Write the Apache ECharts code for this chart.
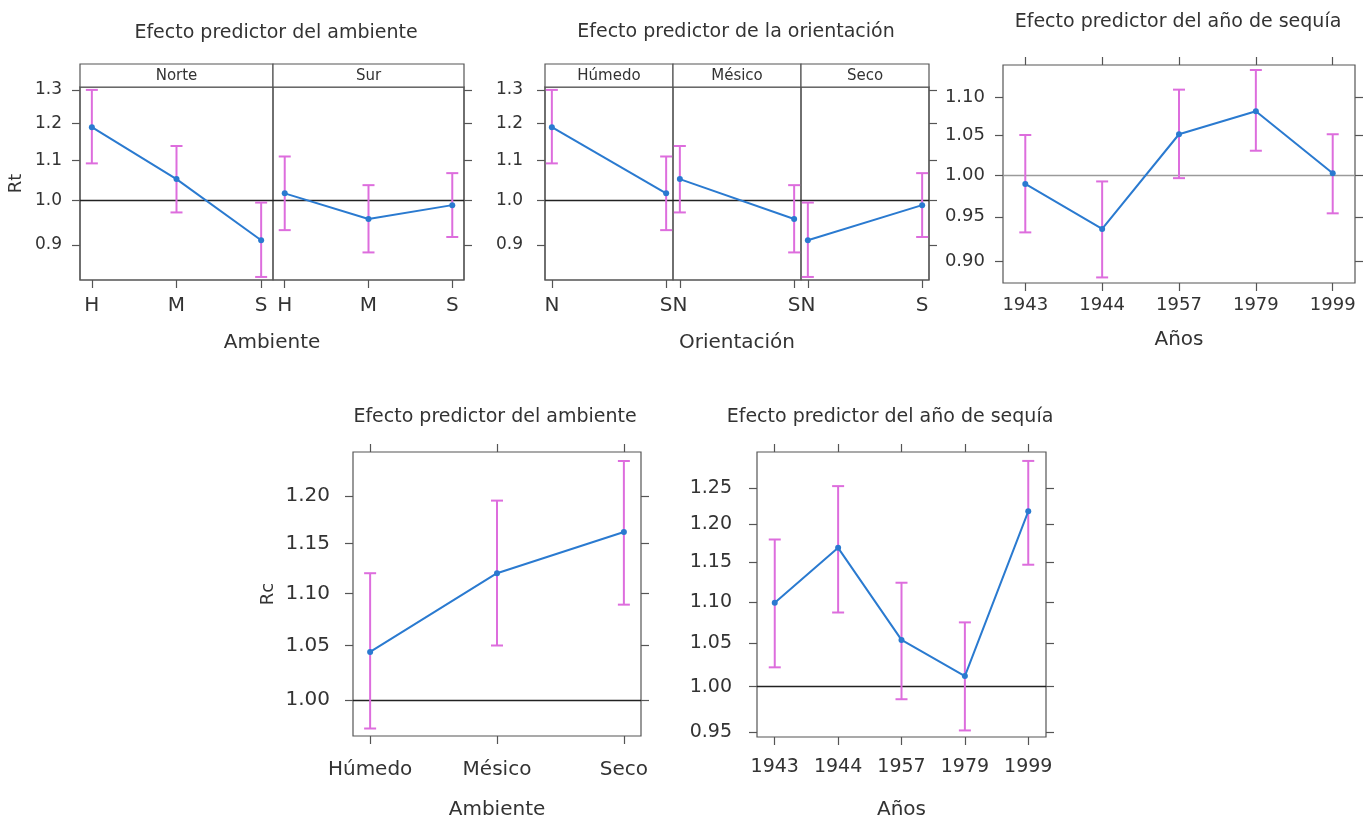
<!DOCTYPE html>
<html>
<head>
<meta charset="utf-8">
<script src="https://cdn.jsdelivr.net/npm/echarts@6/dist/echarts.min.js"></script>
<style>
  html, body { margin: 0; padding: 0; background: #fff; }
  #chart { width: 1368px; height: 821px; }
</style>
</head>
<body>
<div id="chart"></div>
<script>
// categories
var ambLetters = ['H', 'M', 'S'];
var ambNames = ['Húmedo', 'Mésico', 'Seco'];
var oriLetters = ['N', 'S'];
var oriNames = ['Norte', 'Sur'];
var years = ['1943', '1944', '1957', '1979', '1999'];

// Rt, ambiente x orientación (estimate, lower, upper)
var rtNorte = [1.190, 1.052, 0.910];
var rtNorteLo = [1.092, 0.972, 0.834];
var rtNorteHi = [1.300, 1.138, 0.995];
var rtSur = [1.017, 0.957, 0.989];
var rtSurLo = [0.932, 0.884, 0.917];
var rtSurHi = [1.110, 1.037, 1.067];

// Rt by drought year
var rtYear = [0.989, 0.936, 1.051, 1.081, 1.002];
var rtYearLo = [0.932, 0.882, 0.996, 1.030, 0.954];
var rtYearHi = [1.050, 0.992, 1.110, 1.137, 1.051];

// Rc by ambiente
var rcAmb = [1.044, 1.120, 1.162];
var rcAmbLo = [0.975, 1.050, 1.089];
var rcAmbHi = [1.120, 1.195, 1.238];

// Rc by drought year
var rcYear = [1.099, 1.169, 1.054, 1.012, 1.218];
var rcYearLo = [1.022, 1.087, 0.986, 0.952, 1.147];
var rcYearHi = [1.180, 1.253, 1.124, 1.075, 1.289];

// tick labels (log scale axes)
var rtTicks = [0.9, 1.0, 1.1, 1.2, 1.3];
var rtYearTicks = [0.90, 0.95, 1.00, 1.05, 1.10];
var rcAmbTicks = [1.00, 1.05, 1.10, 1.15, 1.20];
var rcYearTicks = [0.95, 1.00, 1.05, 1.10, 1.15, 1.20, 1.25];

var FONT = 'DejaVu Sans';
var TXT = '#333';
var FRAME = '#555';
var BLUE = '#2a7ad0';
var PINK = '#dd6ddd';
var L = Math.log;

var grids = [], xAxes = [], yAxes = [], series = [], graphics = [];

function addGrid(left, top, width, height) {
  grids.push({
    left: left, top: top, width: width, height: height,
    show: true, borderColor: FRAME, borderWidth: 1.2, backgroundColor: 'rgba(0,0,0,0)'
  });
  return grids.length - 1;
}

function idx(list) {
  return list.map(function (_, i) { return i; });
}

function catAxis(g, cats, pad, o) {
  o = o || {};
  var pos = idx(cats);
  xAxes.push({
    type: 'value', gridIndex: g, position: o.pos || 'bottom',
    min: -pad, max: cats.length - 1 + pad,
    axisLine: { show: false, onZero: false },
    splitLine: { show: false },
    axisTick: { show: o.ticks !== false, customValues: pos, length: 8, lineStyle: { color: FRAME, width: 1.2 } },
    axisLabel: {
      show: !!o.labels, customValues: pos, margin: o.margin || 16,
      color: TXT, fontFamily: FONT, fontSize: o.fs || 18,
      formatter: function (v) { return cats[Math.round(v)]; }
    },
    name: o.name || '', nameLocation: 'middle', nameGap: o.nameGap || 50,
    nameTextStyle: { color: TXT, fontFamily: FONT, fontSize: 20 }
  });
  return xAxes.length - 1;
}

function nameAxis(g, name, gap) {
  xAxes.push({
    type: 'value', gridIndex: g, min: 0, max: 1,
    axisLine: { show: false, onZero: false }, axisTick: { show: false },
    axisLabel: { show: false }, splitLine: { show: false },
    name: name, nameLocation: 'middle', nameGap: gap,
    nameTextStyle: { color: TXT, fontFamily: FONT, fontSize: 20 }
  });
  return xAxes.length - 1;
}

function logAxis(g, ticks, lo, hi, o) {
  o = o || {};
  var vals = ticks.map(L);
  yAxes.push({
    type: 'value', gridIndex: g, position: o.pos || 'left',
    min: L(lo), max: L(hi),
    axisLine: { show: false, onZero: false },
    splitLine: { show: false },
    axisTick: { show: !!o.ticks, customValues: vals, length: 8, lineStyle: { color: FRAME, width: 1.2 } },
    axisLabel: {
      show: !!o.labels, customValues: vals, margin: o.margin || 18,
      color: TXT, fontFamily: FONT, fontSize: o.fs || 17,
      formatter: function (v) { return Math.exp(v).toFixed(o.digits || 2); }
    },
    name: o.name || '', nameLocation: 'middle', nameGap: o.nameGap || 50,
    nameTextStyle: { color: TXT, fontFamily: FONT, fontSize: 18 }
  });
  return yAxes.length - 1;
}

function errorBar(params, api) {
  var x = api.value(0);
  var lo = api.coord([x, api.value(1)]);
  var hi = api.coord([x, api.value(2)]);
  var w = 6;
  var st = { stroke: PINK, lineWidth: 2 };
  return {
    type: 'group',
    children: [
      { type: 'line', shape: { x1: hi[0], y1: hi[1], x2: lo[0], y2: lo[1] }, style: st },
      { type: 'line', shape: { x1: hi[0] - w, y1: hi[1], x2: hi[0] + w, y2: hi[1] }, style: st },
      { type: 'line', shape: { x1: lo[0] - w, y1: lo[1], x2: lo[0] + w, y2: lo[1] }, style: st }
    ]
  };
}

function addEffect(xi, yi, vals, lo, hi, refColor) {
  series.push({
    type: 'custom', xAxisIndex: xi, yAxisIndex: yi, renderItem: errorBar, silent: true, z: 2,
    encode: { x: 0, y: [1, 2] },
    data: vals.map(function (v, i) { return [i, L(lo[i]), L(hi[i])]; })
  });
  series.push({
    type: 'line', xAxisIndex: xi, yAxisIndex: yi, z: 3,
    symbol: 'circle', symbolSize: 6,
    lineStyle: { color: BLUE, width: 2 }, itemStyle: { color: BLUE },
    data: vals.map(function (v, i) { return [i, L(v)]; }),
    markLine: {
      silent: true, symbol: 'none', label: { show: false }, z: 1,
      lineStyle: { color: refColor, width: 1.4, type: 'solid' },
      data: [{ yAxis: 0 }]
    }
  });
}

function addText(text, x, y, size) {
  graphics.push({
    type: 'text', x: x, y: y, z: 10,
    style: { text: text, align: 'center', verticalAlign: 'middle', fill: TXT, fontFamily: FONT, fontSize: size }
  });
}

function addStrip(x0, x1, label) {
  graphics.push({
    type: 'rect', z: 5, shape: { x: x0, y: 64, width: x1 - x0, height: 23 },
    style: { fill: '#fff', stroke: FRAME, lineWidth: 1.2 }
  });
  addText(label, (x0 + x1) / 2, 76, 15);
}

// ---- Panel 1: Rt ~ ambiente | orientación
var rtLo = 0.828, rtHi = 1.309;
var g = addGrid(80, 87, 384, 193);
nameAxis(g, 'Ambiente', 53);
logAxis(g, rtTicks, rtLo, rtHi, { ticks: true, labels: true, digits: 1, margin: 18, name: 'Rt', nameGap: 55 });
logAxis(g, rtTicks, rtLo, rtHi, { ticks: true, pos: 'right' });

var p1 = [[80, 193, rtNorte, rtNorteLo, rtNorteHi], [273, 191, rtSur, rtSurLo, rtSurHi]];
p1.forEach(function (p, k) {
  var gi = addGrid(p[0], 87, p[1], 193);
  var xi = catAxis(gi, ambLetters, 0.14, { labels: true, fs: 20, margin: 16 });
  var yi = logAxis(gi, rtTicks, rtLo, rtHi, {});
  addEffect(xi, yi, p[2], p[3], p[4], '#222');
  addStrip(p[0], p[0] + p[1], oriNames[k]);
});
addText('Efecto predictor del ambiente', 276, 33, 19);

// ---- Panel 2: Rt ~ orientación | ambiente
g = addGrid(545, 87, 384, 193);
nameAxis(g, 'Orientación', 53);
logAxis(g, rtTicks, rtLo, rtHi, { ticks: true, labels: true, digits: 1, margin: 22 });
logAxis(g, rtTicks, rtLo, rtHi, { ticks: true, pos: 'right' });

ambNames.forEach(function (name, k) {
  var left = 545 + k * 128;
  var gi = addGrid(left, 87, 128, 193);
  var xi = catAxis(gi, oriLetters, 0.06, { labels: true, fs: 20, margin: 16 });
  var yi = logAxis(gi, rtTicks, rtLo, rtHi, {});
  addEffect(xi, yi, [rtNorte[k], rtSur[k]], [rtNorteLo[k], rtSurLo[k]], [rtNorteHi[k], rtSurHi[k]], '#222');
  addStrip(left, left + 128, name);
});
addText('Efecto predictor de la orientación', 736, 32, 19);

// ---- Panel 3: Rt ~ año de sequía
g = addGrid(1003, 65, 352, 218);
var x3 = catAxis(g, years, 0.29, { labels: true, margin: 13, name: 'Años', nameGap: 47 });
catAxis(g, years, 0.29, { pos: 'top' });
var y3 = logAxis(g, rtYearTicks, 0.876, 1.144, { ticks: true, labels: true, digits: 2, fs: 18, margin: 18 });
logAxis(g, rtYearTicks, 0.876, 1.144, { ticks: true, pos: 'right' });
addEffect(x3, y3, rtYear, rtYearLo, rtYearHi, '#9a9a9a');
addText('Efecto predictor del año de sequía', 1178, 22, 19);

// ---- Panel 4: Rc ~ ambiente
g = addGrid(353, 452, 288, 285);
var x4 = catAxis(g, ambNames, 0.135, { labels: true, fs: 20, margin: 24, name: 'Ambiente', nameGap: 64 });
catAxis(g, ambNames, 0.135, { pos: 'top' });
var y4 = logAxis(g, rcAmbTicks, 0.9685, 1.248, { ticks: true, labels: true, digits: 2, fs: 20, margin: 23, name: 'Rc', nameGap: 76 });
logAxis(g, rcAmbTicks, 0.9685, 1.248, { ticks: true, pos: 'right' });
addEffect(x4, y4, rcAmb, rcAmbLo, rcAmbHi, '#222');
addText('Efecto predictor del ambiente', 495, 417, 19);

// ---- Panel 5: Rc ~ año de sequía
g = addGrid(757, 452, 289, 285);
var x5 = catAxis(g, years, 0.28, { labels: true, fs: 19, margin: 21, name: 'Años', nameGap: 63 });
catAxis(g, years, 0.28, { pos: 'top' });
var y5 = logAxis(g, rcYearTicks, 0.945, 1.302, { ticks: true, labels: true, digits: 2, fs: 19, margin: 25 });
logAxis(g, rcYearTicks, 0.945, 1.302, { ticks: true, pos: 'right' });
addEffect(x5, y5, rcYear, rcYearLo, rcYearHi, '#222');
addText('Efecto predictor del año de sequía', 890, 417, 19);

var chart = echarts.init(document.getElementById('chart'), null, { renderer: 'canvas' });
chart.setOption({
  animation: false,
  backgroundColor: '#fff',
  grid: grids,
  xAxis: xAxes,
  yAxis: yAxes,
  series: series,
  graphic: graphics
});
</script>
</body>
</html>
